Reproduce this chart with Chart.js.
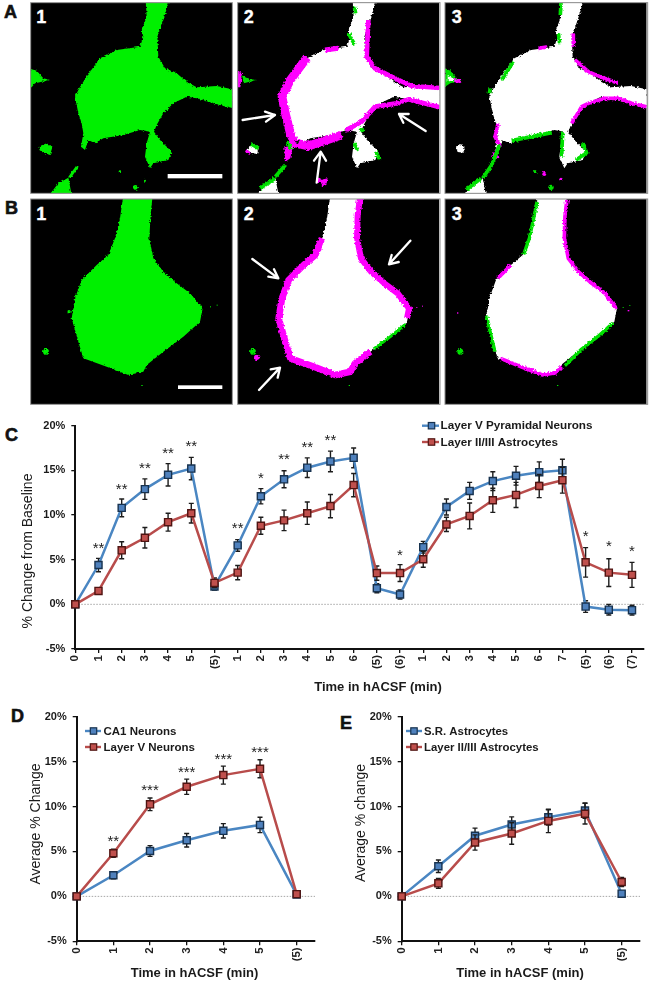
<!DOCTYPE html>
<html><head><meta charset="utf-8">
<script src="https://cdn.jsdelivr.net/npm/chart.js@4"></script>
<style>
html,body{margin:0;padding:0;background:#fff;width:650px;height:983px;overflow:hidden;font-family:"Liberation Sans",Arial,sans-serif}
canvas{position:absolute;display:block}
svg#micro{position:absolute;left:0;top:0}
.pl{position:absolute;font:bold 18px "Liberation Sans",Arial,sans-serif;color:#111;-webkit-text-stroke:.6px #111;line-height:18px}
</style></head><body>

<svg id="micro" width="650" height="410" viewBox="0 0 1950 1230" xmlns="http://www.w3.org/2000/svg">
<defs>
<filter id="rough" x="-5%" y="-5%" width="110%" height="110%">
<feTurbulence type="fractalNoise" baseFrequency="0.16" numOctaves="2" seed="4" result="n"/>
<feDisplacementMap in="SourceGraphic" in2="n" scale="10" xChannelSelector="R" yChannelSelector="G"/>
</filter>
<polygon id="aMain" points="437,0 508,0 490,60 472,110 475,170 495,205 530,220 560,245 590,262 650,258 697,268 700,325 640,310 590,295 560,290 520,310 490,340 470,375 462,395 480,420 515,455 505,480 460,490 450,505 435,470 440,430 450,395 420,390 370,405 310,415 285,430 265,420 255,450 243,440 250,400 245,370 235,340 225,290 240,260 270,215 300,175 350,150 420,140 430,110 425,90 440,50"/>
<g id="aBlobs">
<polygon points="85,205 110,212 130,235 150,240 105,250 95,262 85,262"/>
<polygon points="120,438 140,430 157,442 150,465 130,458 118,450"/>
<polygon points="148,585 175,550 205,533 215,585"/>
<polygon points="205,530 230,495 236,500 212,535"/>
<circle cx="406" cy="562" r="7"/><circle cx="360" cy="515" r="4"/><circle cx="435" cy="542" r="3"/>
</g>
<polygon id="bMain" points="370,0 458,0 452,60 448,130 460,190 490,230 530,265 570,295 608,340 600,380 550,425 490,470 440,510 430,530 385,540 320,515 250,490 235,440 215,370 225,310 245,255 290,210 325,180 345,130 360,70"/>
</defs>

<svg x="92" y="8" width="605" height="572" viewBox="92 8 605 572">
<rect x="92" y="8" width="605" height="572" fill="#000"/>
<g filter="url(#rough)" fill="#00f000"><use href="#aMain"/><use href="#aBlobs"/></g>
</svg>

<svg x="713" y="8" width="605" height="572" viewBox="92 8 605 572">
<rect x="92" y="8" width="605" height="572" fill="#000"/>
<g filter="url(#rough)">
<use href="#aMain" fill="#fff"/>
<polygon points="90,210 105,220 100,262 90,262" fill="#f0f"/>
<polygon points="105,225 130,238 150,240 110,250" fill="#00e000"/>
<polygon points="120,448 135,435 155,445 150,462 130,458" fill="#fff"/>
<polygon points="118,448 130,456 130,462 114,456" fill="#f0f"/>
<polygon points="150,585 175,552 205,535 215,585" fill="#fff"/>
<g fill="none" stroke="#f0f" stroke-linejoin="round">
<polyline stroke-width="26" points="300,172 250,240 225,290 235,340 250,400 262,428 304,438 354,422 404,405"/>
<polyline stroke-width="15" points="354,150 394,145"/>
<polyline stroke-width="14" points="484,60 479,170 504,205 564,235 614,258 699,264"/>
<polyline stroke-width="14" points="699,322 604,298 569,310 504,320 464,365 415,392"/>
</g>
<polygon points="232,442 258,436 250,475 234,486" fill="#f0f"/>
<polygon points="340,540 362,535 358,555 345,558" fill="#f0f"/>
<g fill="none" stroke="#00e000" stroke-width="11">
<polyline points="424,100 444,135"/><polyline points="442,20 446,40"/>
<polyline points="506,455 518,478"/><polyline points="441,430 452,450"/><polyline points="458,385 470,395"/>
<polyline points="242,425 252,448"/><polyline points="205,530 235,495"/><polyline points="160,565 205,535"/>
<polyline points="132,432 155,445"/>
</g>
<circle cx="270" cy="425" r="6" fill="#111"/>
<circle cx="335" cy="540" r="7" fill="#f0f"/>
</g>
</svg>

<svg x="1335" y="8" width="605" height="572" viewBox="92 8 605 572">
<rect x="92" y="8" width="605" height="572" fill="#000"/>
<g filter="url(#rough)">
<use href="#aMain" fill="#fff"/>
<polygon points="92,205 108,212 130,238 145,240 108,250 92,260" fill="#00e000"/>
<polygon points="100,228 125,238 100,245" fill="#fff"/>
<polygon points="125,442 140,432 152,445 148,458 130,456" fill="#fff"/>
<polygon points="150,585 175,552 205,535 215,585" fill="#fff"/>
<g fill="none" stroke="#f0f" stroke-width="11" stroke-linejoin="round">
<polyline points="477,100 477,140"/><polyline points="482,180 522,215 562,232 612,250"/>
<polyline points="697,320 652,310 612,295 572,295 522,310 502,320 472,370"/>
<polyline points="252,370 242,410 257,440"/><polyline points="372,145 396,141"/><polyline points="120,240 140,244"/>
</g>
<polygon points="230,470 245,445 252,475" fill="#f0f"/>
<g fill="none" stroke="#00e000" stroke-width="11" stroke-linejoin="round">
<polyline points="440,8 438,45"/><polyline points="432,100 436,130"/><polyline points="297,185 262,240"/>
<polyline points="292,422 412,398"/><polyline points="505,430 517,458 485,480"/><polyline points="445,395 442,470"/>
<polyline points="255,435 232,495 205,535"/><polyline points="155,570 200,535"/><polyline points="225,280 228,265"/>
</g>
<circle cx="390" cy="522" r="6" fill="#f0f"/><circle cx="362" cy="515" r="5" fill="#00e000"/><circle cx="410" cy="562" r="8" fill="#00e000"/><circle cx="440" cy="538" r="5" fill="#f0f"/>
</g>
</svg>

<svg x="92" y="597" width="605" height="616" viewBox="92 12 605 616">
<rect x="92" y="12" width="605" height="616" fill="#000"/>
<g filter="url(#rough)" fill="#00f000"><use href="#bMain"/><circle cx="138" cy="470" r="9"/><circle cx="207" cy="350" r="5"/></g>
<g fill="#00f000"><rect x="630" y="334" width="3" height="3"/><rect x="650" y="329" width="3" height="3"/><rect x="424" y="570" width="4" height="3"/></g>
</svg>

<svg x="713" y="597" width="605" height="616" viewBox="92 12 605 616">
<rect x="92" y="12" width="605" height="616" fill="#000"/>
<g filter="url(#rough)">
<use href="#bMain" fill="#fff"/>
<g fill="none" stroke="#f0f" stroke-linejoin="round">
<polyline stroke-width="20" points="345,130 325,180 290,210 245,255 225,310 215,370 235,440 250,490 320,515 385,540 430,530 444,505 490,470"/>
<polyline stroke-width="18" points="459,10 452,60 450,130 462,190 492,230 532,265 572,295 606,340 600,370"/>
</g>
<polyline points="500,462 550,425 595,388" fill="none" stroke="#00e000" stroke-width="9"/>
<circle cx="138" cy="470" r="9" fill="#00e000"/><circle cx="149" cy="487" r="8" fill="#f0f"/>
</g>
<g fill="#f0f"><rect x="628" y="336" width="3" height="3"/><rect x="645" y="332" width="3" height="3"/></g>
<rect x="425" y="570" width="4" height="3" fill="#00e000"/>
</svg>

<svg x="1335" y="597" width="605" height="616" viewBox="92 12 605 616">
<rect x="92" y="12" width="605" height="616" fill="#000"/>
<g filter="url(#rough)">
<use href="#bMain" fill="#fff"/>
<g fill="none" stroke="#00e000" stroke-width="10" stroke-linejoin="round">
<polyline points="368,20 358,70 345,130 328,178"/><polyline points="242,470 225,400 217,362"/><polyline points="452,512 502,462 550,425 595,385"/>
</g>
<g fill="none" stroke="#f0f" stroke-width="11" stroke-linejoin="round">
<polyline points="458,14 452,60 450,130 462,190 492,230 532,265 572,295 606,340"/>
<polyline points="442,515 425,533 385,540 320,515 258,490"/><polyline points="290,210 250,250"/>
</g>
<circle cx="138" cy="470" r="9" fill="#00e000"/>
</g>
<g><rect x="625" y="336" width="3" height="3" fill="#00e000"/><rect x="640" y="345" width="5" height="4" fill="#f0f"/><rect x="645" y="330" width="3" height="3" fill="#00e000"/><rect x="128" y="352" width="4" height="4" fill="#f0f"/><rect x="428" y="570" width="4" height="3" fill="#00e000"/></g>
</svg>

<g fill="none" stroke="#8a8a8a" stroke-width="3">
<rect x="92" y="8" width="605" height="572"/><rect x="713" y="8" width="607" height="572"/><rect x="1335" y="8" width="608" height="572"/>
<rect x="92" y="597" width="605" height="616"/><rect x="713" y="597" width="607" height="616"/><rect x="1335" y="597" width="608" height="616"/>
</g>
<rect x="503" y="522" width="164" height="13" fill="#fff"/>
<rect x="534" y="1156" width="133" height="11" fill="#fff"/>
<g fill="none" stroke="#fff" stroke-width="7" stroke-linecap="round" stroke-linejoin="round">
<path d="M728,360 L825,345 M795,335 L825,345 L798,365"/>
<path d="M950,548 L962,455 M942,482 L962,455 L978,482"/>
<path d="M1277,393 L1197,342 M1226,342 L1197,342 L1210,368"/>
<path d="M757,777 L835,835 M805,830 L835,835 L822,808"/>
<path d="M777,1170 L840,1103 M812,1108 L840,1103 L833,1133"/>
<path d="M1231,722 L1167,793 M1196,786 L1167,793 L1175,765"/>
</g>
<g fill="#fff" font-family="Liberation Sans" font-weight="bold" font-size="54" text-anchor="middle" stroke="#fff" stroke-width="1">
<text x="124" y="68">1</text><text x="746" y="68">2</text><text x="1370" y="68">3</text>
<text x="124" y="660">1</text><text x="746" y="660">2</text><text x="1370" y="660">3</text>
</g>
</svg>

<div class="pl" style="left:4px;top:3px">A</div>
<div class="pl" style="left:5px;top:199px">B</div>
<div class="pl" style="left:5px;top:426px">C</div>
<div class="pl" style="left:11px;top:707px">D</div>
<div class="pl" style="left:340px;top:714px">E</div>

<canvas id="chartC" width="650" height="290" style="left:0;top:410px"></canvas>
<canvas id="chartD" width="325" height="283" style="left:0;top:700px"></canvas>
<canvas id="chartE" width="325" height="283" style="left:325px;top:700px"></canvas>

<script>
// ---- data ----
const labelsC = ["0","1","2","3","4","5","(5)","1","2","3","4","5","6","(5)","(6)","1","2","3","4","5","6","7","(5)","(6)","(7)"];
const pyramidal = [0,4.4,10.8,12.9,14.5,15.2,2.0,6.6,12.1,14.0,15.3,16.0,16.4,1.8,1.1,6.4,10.9,12.7,13.8,14.4,14.8,15.0,-0.25,-0.6,-0.65];
const pyramidalErr = [0,0.75,1.0,1.15,1.25,1.25,0.4,0.65,0.85,0.95,1.1,1.15,1.1,0.5,0.5,0.65,0.9,0.95,1.05,1.05,1.15,1.25,0.65,0.6,0.55];
const astroC = [0,1.5,6.05,7.45,9.2,10.2,2.4,3.55,8.8,9.4,10.2,11.0,13.35,3.5,3.5,5.05,8.95,9.9,11.65,12.25,13.25,13.9,4.7,3.55,3.3];
const astroCErr = [0,0.3,0.95,1.15,1.0,1.1,0.55,0.8,0.95,1.15,1.25,1.3,1.3,0.8,0.95,0.9,0.8,1.45,1.35,1.4,1.3,1.45,1.65,1.55,1.4];
const sigCIndex = [1,2,3,4,5,7,8,9,10,11,14,22,23,24];
const sigCText = ["**","**","**","**","**","**","*","**","**","**","*","*","*","*"];
const sigCLevel = [6.6,13.2,15.5,17.2,18.0,8.8,14.4,16.5,17.8,18.6,5.8,7.9,6.75,6.2];

const labelsDE = ["0","1","2","3","4","5","(5)"];
const ca1 = [0,2.35,5.05,6.25,7.3,7.95,0.2];
const ca1Err = [0,0.4,0.6,0.75,0.8,0.85,0.3];
const layerV = [0,4.8,10.25,12.2,13.5,14.2,0.25];
const layerVErr = [0,0.45,0.7,0.85,1.0,1.0,0.3];
const sigDIndex = [1,2,3,4,5];
const sigDText = ["**","***","***","***","***"];
const sigDLevel = [6.4,12.05,14.1,15.5,16.3];

const srAstro = [0,3.35,6.75,8.0,8.8,9.55,0.3];
const srAstroErr = [0,0.7,0.85,0.85,0.85,0.85,0.2];
const astroE = [0,1.45,6.0,7.0,8.4,9.2,1.6];
const astroEErr = [0,0.55,0.85,1.2,1.3,1.15,0.5];

const yTickStep = 5, yMin = -5, yMax = 20;

// ---- styling ----
const FONT = '"Liberation Sans", Arial, sans-serif';
const BLUE = {line:'#4a86c2', fill:'#4f81bd', edge:'#17324f'};
const RED  = {line:'#b84c4b', fill:'#c0504d', edge:'#4f1412'};

function series(name, values, errs, st, order){
  return {label:name, data:values.map((y,i)=>({x:i,y})), errs, borderColor:st.line, backgroundColor:st.fill,
    pointBackgroundColor:st.fill, pointBorderColor:st.edge, pointBorderWidth:1.4, pointStyle:'rect', pointRadius:5,
    borderWidth:2.5, tension:0, clip:false, order, edge:st.edge};
}

const figurePlugin = {
  id:'figure',
  beforeDatasetsDraw(chart){
    const {ctx, chartArea:a, scales:{y}} = chart;
    ctx.save(); ctx.strokeStyle='#8f8f8f'; ctx.lineWidth=0.8; ctx.setLineDash([1.5,1.5]);
    const py = y.getPixelForValue(0);
    ctx.beginPath(); ctx.moveTo(a.left,py); ctx.lineTo(a.right,py); ctx.stroke(); ctx.restore();
  },
  beforeDatasetDraw(chart,args){
    const {ctx, scales:{x,y}} = chart;
    const ds = chart.data.datasets[args.index];
    ctx.save(); ctx.strokeStyle='#1c1c1c'; ctx.lineWidth=1.4;
    ds.data.forEach((p,i)=>{
      const e = ds.errs[i]; if(!e) return;
      const px=x.getPixelForValue(p.x), t=y.getPixelForValue(p.y+e), b=y.getPixelForValue(p.y-e);
      ctx.beginPath(); ctx.moveTo(px,t); ctx.lineTo(px,b);
      ctx.moveTo(px-2.5,t); ctx.lineTo(px+2.5,t); ctx.moveTo(px-2.5,b); ctx.lineTo(px+2.5,b); ctx.stroke();
    });
    ctx.restore();
  },
  afterDatasetsDraw(chart,_,o){
    const {ctx, scales:{x,y}} = chart;
    ctx.save();
    // significance marks
    ctx.fillStyle='#222'; ctx.font='15px '+FONT; ctx.textAlign='center'; ctx.textBaseline='middle';
    (o.sigIndex||[]).forEach((idx,i)=>ctx.fillText(o.sigText[i],x.getPixelForValue(idx),y.getPixelForValue(o.sigLevel[i])+3));
    // legend
    ctx.textAlign='left';
    ctx.font='bold '+o.legend.size+'px '+FONT;
    chart.data.datasets.forEach((ds,i)=>{
      const ly=o.legend.y+i*o.legend.gap;
      ctx.strokeStyle=ds.borderColor; ctx.lineWidth=2.4;
      ctx.beginPath(); ctx.moveTo(o.legend.x0,ly); ctx.lineTo(o.legend.x1,ly); ctx.stroke();
      ctx.fillStyle=ds.backgroundColor; ctx.strokeStyle=ds.edge; ctx.lineWidth=1.2;
      ctx.fillRect(o.legend.m-3.2,ly-3.2,6.4,6.4); ctx.strokeRect(o.legend.m-3.2,ly-3.2,6.4,6.4);
      ctx.fillStyle='#1a1a1a'; ctx.fillText(ds.label,o.legend.text,ly+0.5);
    });
    // axis titles
    ctx.font=o.yTitle.font+' '+FONT; ctx.fillStyle='#1a1a1a'; ctx.textAlign='center'; ctx.textBaseline='middle';
    ctx.save(); ctx.translate(o.yTitle.x,o.yTitle.y); ctx.rotate(-Math.PI/2); ctx.fillText(o.yTitle.text,0,0); ctx.restore();
    ctx.font=o.xTitle.font+' '+FONT;
    ctx.fillText(o.xTitle.text,o.xTitle.x,o.xTitle.y);
    ctx.restore();
  }
};

function makeChart(id, labels, datasets, geo, fig){
  return new Chart(document.getElementById(id),{
    type:'line',
    data:{datasets},
    plugins:[figurePlugin],
    options:{
      responsive:false, animation:false, devicePixelRatio:1,
      layout:{padding:{left:0,top:geo.top,right:geo.right,bottom:0}},
      plugins:{legend:{display:false},tooltip:{enabled:false},title:{display:false},figure:fig},
      scales:{
        x:{type:'linear',min:0,max:labels.length-0.5,
          grid:{drawOnChartArea:false,drawTicks:true,tickLength:4,color:'#111',lineWidth:1.3},
          border:{display:true,color:'#111',width:2},
          afterFit(s){s.height=geo.xh;},
          ticks:{stepSize:1,includeBounds:false,autoSkip:false,minRotation:90,maxRotation:90,padding:2,color:'#222',
            font:{family:FONT,size:geo.xfont,weight:'bold'},callback:v=>labels[v]}},
        y:{type:'linear',min:yMin,max:yMax,
          grid:{drawOnChartArea:false,drawTicks:true,tickLength:4,color:'#111',lineWidth:1.3},
          border:{display:true,color:'#111',width:2},
          afterFit(s){s.width=geo.yw;},
          ticks:{stepSize:yTickStep,padding:6,color:'#1a1a1a',font:{family:FONT,size:11,weight:'bold'},callback:v=>v+'%'}}
      }
    }
  });
}

makeChart('chartC',labelsC,[
  series('Layer V Pyramidal Neurons',pyramidal,pyramidalErr,BLUE,2),
  series('Layer II/III Astrocytes',astroC,astroCErr,RED,1)
],{top:15.7,right:5,xh:51,yw:75.3,xfont:11.5},{
  sigIndex:sigCIndex,sigText:sigCText,sigLevel:sigCLevel,
  legend:{x0:422,x1:439,m:431.5,text:440.5,y:15.7,gap:16.3,size:11.7},
  yTitle:{text:'% Change from Baseline',x:28,y:141,font:'14px'},
  xTitle:{text:'Time in hACSF (min)',x:378,y:277.5,font:'bold 13px'}
});
makeChart('chartD',labelsDE,[
  series('CA1 Neurons',ca1,ca1Err,BLUE,2),
  series('Layer V Neurons',layerV,layerVErr,RED,1)
],{top:16.7,right:10,xh:41.7,yw:76.7,xfont:11.5},{
  sigIndex:sigDIndex,sigText:sigDText,sigLevel:sigDLevel,
  legend:{x0:85,x1:101,m:93.5,text:103.5,y:31,gap:16,size:11.5},
  yTitle:{text:'Average % Change',x:35.7,y:124,font:'14px'},
  xTitle:{text:'Time in hACSF (min)',x:194.5,y:273.5,font:'bold 13px'}
});
makeChart('chartE',labelsDE,[
  series('S.R. Astrocytes',srAstro,srAstroErr,BLUE,2),
  series('Layer II/III Astrocytes',astroE,astroEErr,RED,1)
],{top:16.7,right:10,xh:41.7,yw:76.7,xfont:11.5},{
  legend:{x0:81,x1:97,m:89,text:99,y:31,gap:16,size:11.4},
  yTitle:{text:'Average % change',x:35.7,y:123,font:'14px'},
  xTitle:{text:'Time in hACSF (min)',x:195,y:273.5,font:'bold 13px'}
});
</script>
</body></html>
